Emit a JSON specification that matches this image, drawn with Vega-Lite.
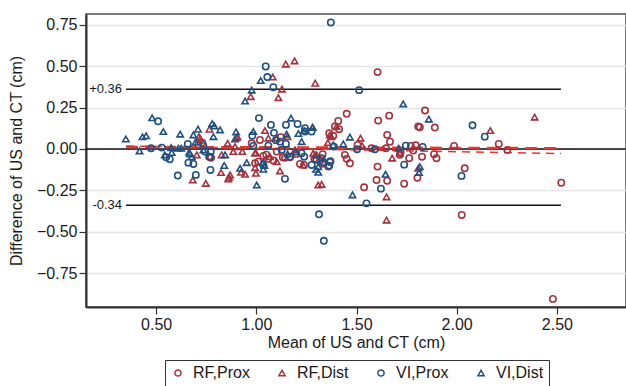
{
  "$schema": "https://vega.github.io/schema/vega-lite/v6.json",
  "width": 540,
  "height": 293,
  "padding": {"top": 14, "left": 8, "right": 0, "bottom": 0},
  "config": {
    "font": "Liberation Sans",
    "view": {"stroke": "#4d4d4d", "strokeWidth": 1.5},
    "axis": {"labelFont": "Liberation Sans", "titleFont": "Liberation Sans", "labelFontSize": 16, "titleFontSize": 16, "titleFontWeight": "normal", "labelColor": "#1a1a1a", "titleColor": "#1a1a1a", "domainColor": "#333333", "domainWidth": 2, "tickColor": "#333333", "tickWidth": 1.2, "tickSize": 7}
  },
  "datasets": {
    "pts": [
      {"m":0.977,"d":0.034,"g":"RF,Prox"},{"m":1.018,"d":0.054,"g":"RF,Prox"},{"m":1.035,"d":-0.042,"g":"RF,Prox"},{"m":1.05,"d":-0.035,"g":"RF,Prox"},{"m":1.102,"d":-0.016,"g":"RF,Prox"},{"m":1.122,"d":0.071,"g":"RF,Prox"},{"m":1.132,"d":-0.05,"g":"RF,Prox"},{"m":1.168,"d":-0.05,"g":"RF,Prox"},{"m":1.218,"d":-0.091,"g":"RF,Prox"},{"m":1.238,"d":-0.097,"g":"RF,Prox"},{"m":0.764,"d":-0.047,"g":"RF,Prox"},{"m":0.731,"d":0.038,"g":"RF,Prox"},{"m":0.774,"d":-0.053,"g":"RF,Prox"},{"m":0.711,"d":0.024,"g":"RF,Prox"},{"m":0.994,"d":-0.087,"g":"RF,Prox"},{"m":1.01,"d":-0.077,"g":"RF,Prox"},{"m":1.06,"d":-0.06,"g":"RF,Prox"},{"m":1.085,"d":-0.07,"g":"RF,Prox"},{"m":1.143,"d":-0.053,"g":"RF,Prox"},{"m":1.318,"d":-0.073,"g":"RF,Prox"},{"m":1.359,"d":-0.107,"g":"RF,Prox"},{"m":1.605,"d":0.464,"g":"RF,Prox"},{"m":1.451,"d":0.212,"g":"RF,Prox"},{"m":1.409,"d":0.169,"g":"RF,Prox"},{"m":1.392,"d":0.135,"g":"RF,Prox"},{"m":1.413,"d":0.119,"g":"RF,Prox"},{"m":1.364,"d":0.095,"g":"RF,Prox"},{"m":1.384,"d":0.079,"g":"RF,Prox"},{"m":1.608,"d":0.171,"g":"RF,Prox"},{"m":1.663,"d":0.201,"g":"RF,Prox"},{"m":1.842,"d":0.232,"g":"RF,Prox"},{"m":1.816,"d":0.131,"g":"RF,Prox"},{"m":1.891,"d":0.129,"g":"RF,Prox"},{"m":1.653,"d":0.085,"g":"RF,Prox"},{"m":1.667,"d":0.044,"g":"RF,Prox"},{"m":1.575,"d":0.004,"g":"RF,Prox"},{"m":1.647,"d":0.004,"g":"RF,Prox"},{"m":1.771,"d":0.018,"g":"RF,Prox"},{"m":1.783,"d":-0.01,"g":"RF,Prox"},{"m":1.795,"d":0.022,"g":"RF,Prox"},{"m":1.505,"d":0.024,"g":"RF,Prox"},{"m":1.987,"d":0.018,"g":"RF,Prox"},{"m":2.21,"d":0.03,"g":"RF,Prox"},{"m":2.253,"d":-0.006,"g":"RF,Prox"},{"m":2.522,"d":-0.204,"g":"RF,Prox"},{"m":2.04,"d":-0.117,"g":"RF,Prox"},{"m":1.442,"d":-0.036,"g":"RF,Prox"},{"m":1.451,"d":-0.06,"g":"RF,Prox"},{"m":1.467,"d":-0.087,"g":"RF,Prox"},{"m":1.331,"d":-0.032,"g":"RF,Prox"},{"m":1.367,"d":-0.079,"g":"RF,Prox"},{"m":1.605,"d":-0.107,"g":"RF,Prox"},{"m":1.6,"d":-0.188,"g":"RF,Prox"},{"m":1.653,"d":-0.192,"g":"RF,Prox"},{"m":1.538,"d":-0.232,"g":"RF,Prox"},{"m":1.738,"d":-0.21,"g":"RF,Prox"},{"m":1.804,"d":-0.174,"g":"RF,Prox"},{"m":1.763,"d":-0.056,"g":"RF,Prox"},{"m":1.827,"d":-0.047,"g":"RF,Prox"},{"m":1.887,"d":-0.032,"g":"RF,Prox"},{"m":1.899,"d":-0.056,"g":"RF,Prox"},{"m":1.716,"d":-0.036,"g":"RF,Prox"},{"m":1.72,"d":-0.02,"g":"RF,Prox"},{"m":2.025,"d":-0.399,"g":"RF,Prox"},{"m":2.48,"d":-0.906,"g":"RF,Prox"},{"m":1.29,"d":-0.06,"g":"RF,Prox"},{"m":1.2,"d":-0.03,"g":"RF,Prox"},{"m":1.33,"d":-0.09,"g":"RF,Prox"},{"m":1.808,"d":0.135,"g":"RF,Prox"},
      {"m":1.147,"d":0.512,"g":"RF,Dist"},{"m":1.191,"d":0.532,"g":"RF,Dist"},{"m":1.082,"d":0.434,"g":"RF,Dist"},{"m":1.128,"d":0.361,"g":"RF,Dist"},{"m":1.11,"d":0.31,"g":"RF,Dist"},{"m":0.972,"d":0.316,"g":"RF,Dist"},{"m":1.294,"d":0.397,"g":"RF,Dist"},{"m":0.683,"d":-0.188,"g":"RF,Dist"},{"m":0.748,"d":-0.208,"g":"RF,Dist"},{"m":0.864,"d":-0.171,"g":"RF,Dist"},{"m":0.824,"d":-0.143,"g":"RF,Dist"},{"m":0.869,"d":-0.157,"g":"RF,Dist"},{"m":0.924,"d":-0.141,"g":"RF,Dist"},{"m":0.944,"d":-0.153,"g":"RF,Dist"},{"m":0.998,"d":-0.147,"g":"RF,Dist"},{"m":0.714,"d":0.074,"g":"RF,Dist"},{"m":0.72,"d":0.062,"g":"RF,Dist"},{"m":0.766,"d":0.119,"g":"RF,Dist"},{"m":0.857,"d":0.034,"g":"RF,Dist"},{"m":0.902,"d":0.068,"g":"RF,Dist"},{"m":0.885,"d":-0.016,"g":"RF,Dist"},{"m":0.93,"d":-0.016,"g":"RF,Dist"},{"m":0.997,"d":-0.022,"g":"RF,Dist"},{"m":0.894,"d":0.014,"g":"RF,Dist"},{"m":1.043,"d":0.111,"g":"RF,Dist"},{"m":1.06,"d":0.065,"g":"RF,Dist"},{"m":1.102,"d":0.065,"g":"RF,Dist"},{"m":1.068,"d":-0.047,"g":"RF,Dist"},{"m":1.102,"d":-0.077,"g":"RF,Dist"},{"m":1.118,"d":-0.133,"g":"RF,Dist"},{"m":1.155,"d":0.074,"g":"RF,Dist"},{"m":1.193,"d":-0.006,"g":"RF,Dist"},{"m":1.284,"d":-0.026,"g":"RF,Dist"},{"m":1.301,"d":-0.036,"g":"RF,Dist"},{"m":1.234,"d":-0.097,"g":"RF,Dist"},{"m":1.326,"d":-0.214,"g":"RF,Dist"},{"m":1.367,"d":0.085,"g":"RF,Dist"},{"m":1.4,"d":0.135,"g":"RF,Dist"},{"m":1.281,"d":0.131,"g":"RF,Dist"},{"m":1.52,"d":0.065,"g":"RF,Dist"},{"m":1.528,"d":0.02,"g":"RF,Dist"},{"m":1.374,"d":0.074,"g":"RF,Dist"},{"m":1.357,"d":0.038,"g":"RF,Dist"},{"m":1.65,"d":-0.29,"g":"RF,Dist"},{"m":1.678,"d":-0.056,"g":"RF,Dist"},{"m":1.716,"d":-0.026,"g":"RF,Dist"},{"m":1.808,"d":-0.117,"g":"RF,Dist"},{"m":2.389,"d":0.192,"g":"RF,Dist"},{"m":2.168,"d":0.111,"g":"RF,Dist"},{"m":0.703,"d":-0.036,"g":"RF,Dist"},{"m":0.994,"d":-0.113,"g":"RF,Dist"},{"m":0.86,"d":-0.181,"g":"RF,Dist"},{"m":1.65,"d":-0.43,"g":"RF,Dist"},{"m":1.309,"d":-0.218,"g":"RF,Dist"},{"m":0.994,"d":-0.026,"g":"RF,Dist"},{"m":0.827,"d":-0.036,"g":"RF,Dist"},{"m":0.905,"d":0.074,"g":"RF,Dist"},{"m":1.293,"d":-0.036,"g":"RF,Dist"},
      {"m":0.51,"d":0.167,"g":"VI,Prox"},{"m":0.475,"d":0.004,"g":"VI,Prox"},{"m":0.528,"d":0.008,"g":"VI,Prox"},{"m":0.55,"d":-0.05,"g":"VI,Prox"},{"m":0.568,"d":-0.062,"g":"VI,Prox"},{"m":0.608,"d":-0.161,"g":"VI,Prox"},{"m":0.661,"d":-0.083,"g":"VI,Prox"},{"m":0.686,"d":-0.091,"g":"VI,Prox"},{"m":0.698,"d":-0.157,"g":"VI,Prox"},{"m":0.658,"d":0.03,"g":"VI,Prox"},{"m":0.771,"d":-0.127,"g":"VI,Prox"},{"m":0.773,"d":-0.016,"g":"VI,Prox"},{"m":0.744,"d":-0.016,"g":"VI,Prox"},{"m":0.769,"d":-0.047,"g":"VI,Prox"},{"m":0.736,"d":0.018,"g":"VI,Prox"},{"m":1.013,"d":0.186,"g":"VI,Prox"},{"m":1.047,"d":0.498,"g":"VI,Prox"},{"m":1.055,"d":0.434,"g":"VI,Prox"},{"m":1.085,"d":0.373,"g":"VI,Prox"},{"m":1.073,"d":0.145,"g":"VI,Prox"},{"m":1.088,"d":0.097,"g":"VI,Prox"},{"m":1.098,"d":0.053,"g":"VI,Prox"},{"m":1.118,"d":0.044,"g":"VI,Prox"},{"m":1.148,"d":0.145,"g":"VI,Prox"},{"m":1.206,"d":0.151,"g":"VI,Prox"},{"m":1.148,"d":0.03,"g":"VI,Prox"},{"m":1.143,"d":-0.181,"g":"VI,Prox"},{"m":1.276,"d":-0.097,"g":"VI,Prox"},{"m":0.985,"d":0.018,"g":"VI,Prox"},{"m":0.98,"d":0.08,"g":"VI,Prox"},{"m":1.372,"d":0.764,"g":"VI,Prox"},{"m":1.513,"d":0.355,"g":"VI,Prox"},{"m":1.503,"d":-0.002,"g":"VI,Prox"},{"m":1.592,"d":-0.002,"g":"VI,Prox"},{"m":1.738,"d":-0.095,"g":"VI,Prox"},{"m":1.746,"d":0.02,"g":"VI,Prox"},{"m":1.83,"d":0.012,"g":"VI,Prox"},{"m":2.079,"d":0.143,"g":"VI,Prox"},{"m":2.14,"d":0.074,"g":"VI,Prox"},{"m":2.024,"d":-0.163,"g":"VI,Prox"},{"m":1.622,"d":-0.24,"g":"VI,Prox"},{"m":1.364,"d":-0.101,"g":"VI,Prox"},{"m":1.226,"d":-0.026,"g":"VI,Prox"},{"m":1.239,"d":-0.047,"g":"VI,Prox"},{"m":1.243,"d":0.105,"g":"VI,Prox"},{"m":1.243,"d":0.125,"g":"VI,Prox"},{"m":1.276,"d":0.105,"g":"VI,Prox"},{"m":1.127,"d":-0.006,"g":"VI,Prox"},{"m":1.168,"d":-0.047,"g":"VI,Prox"},{"m":1.035,"d":-0.097,"g":"VI,Prox"},{"m":1.326,"d":-0.056,"g":"VI,Prox"},{"m":1.334,"d":-0.08,"g":"VI,Prox"},{"m":1.37,"d":-0.075,"g":"VI,Prox"},{"m":1.387,"d":0.014,"g":"VI,Prox"},{"m":1.55,"d":-0.329,"g":"VI,Prox"},{"m":1.313,"d":-0.395,"g":"VI,Prox"},{"m":1.337,"d":-0.555,"g":"VI,Prox"},{"m":1.06,"d":0.02,"g":"VI,Prox"},{"m":1.3,"d":-0.065,"g":"VI,Prox"},
      {"m":0.349,"d":0.06,"g":"VI,Dist"},{"m":0.417,"d":-0.012,"g":"VI,Dist"},{"m":0.432,"d":0.073,"g":"VI,Dist"},{"m":0.45,"d":0.079,"g":"VI,Dist"},{"m":0.48,"d":0.188,"g":"VI,Dist"},{"m":0.536,"d":0.105,"g":"VI,Dist"},{"m":0.543,"d":-0.036,"g":"VI,Dist"},{"m":0.578,"d":-0.022,"g":"VI,Dist"},{"m":0.575,"d":0.008,"g":"VI,Dist"},{"m":0.62,"d":0.089,"g":"VI,Dist"},{"m":0.625,"d":0.004,"g":"VI,Dist"},{"m":0.665,"d":-0.02,"g":"VI,Dist"},{"m":0.669,"d":-0.03,"g":"VI,Dist"},{"m":0.678,"d":-0.047,"g":"VI,Dist"},{"m":0.686,"d":0.085,"g":"VI,Dist"},{"m":0.709,"d":0.119,"g":"VI,Dist"},{"m":0.736,"d":-0.006,"g":"VI,Dist"},{"m":0.78,"d":0.153,"g":"VI,Dist"},{"m":0.79,"d":0.139,"g":"VI,Dist"},{"m":0.819,"d":0.115,"g":"VI,Dist"},{"m":0.786,"d":0.074,"g":"VI,Dist"},{"m":0.844,"d":-0.036,"g":"VI,Dist"},{"m":0.84,"d":-0.1,"g":"VI,Dist"},{"m":0.899,"d":0.103,"g":"VI,Dist"},{"m":0.894,"d":0.06,"g":"VI,Dist"},{"m":0.944,"d":0.289,"g":"VI,Dist"},{"m":0.977,"d":0.355,"g":"VI,Dist"},{"m":1.022,"d":0.413,"g":"VI,Dist"},{"m":0.952,"d":-0.083,"g":"VI,Dist"},{"m":0.919,"d":-0.117,"g":"VI,Dist"},{"m":1.002,"d":-0.218,"g":"VI,Dist"},{"m":0.985,"d":0.105,"g":"VI,Dist"},{"m":1.035,"d":-0.083,"g":"VI,Dist"},{"m":1.04,"d":-0.1,"g":"VI,Dist"},{"m":1.035,"d":-0.123,"g":"VI,Dist"},{"m":1.173,"d":0.186,"g":"VI,Dist"},{"m":1.151,"d":0.089,"g":"VI,Dist"},{"m":1.21,"d":0.093,"g":"VI,Dist"},{"m":1.238,"d":0.111,"g":"VI,Dist"},{"m":1.281,"d":0.129,"g":"VI,Dist"},{"m":1.226,"d":0.044,"g":"VI,Dist"},{"m":1.298,"d":-0.123,"g":"VI,Dist"},{"m":1.309,"d":-0.141,"g":"VI,Dist"},{"m":1.309,"d":-0.107,"g":"VI,Dist"},{"m":1.156,"d":-0.03,"g":"VI,Dist"},{"m":1.196,"d":-0.018,"g":"VI,Dist"},{"m":1.384,"d":0.024,"g":"VI,Dist"},{"m":1.434,"d":0.03,"g":"VI,Dist"},{"m":1.467,"d":0.071,"g":"VI,Dist"},{"m":1.711,"d":0.004,"g":"VI,Dist"},{"m":1.733,"d":0.272,"g":"VI,Dist"},{"m":1.861,"d":0.18,"g":"VI,Dist"},{"m":1.816,"d":-0.107,"g":"VI,Dist"},{"m":1.812,"d":-0.143,"g":"VI,Dist"},{"m":1.645,"d":-0.153,"g":"VI,Dist"},{"m":1.48,"d":-0.278,"g":"VI,Dist"},{"m":0.611,"d":0.004,"g":"VI,Dist"},{"m":0.696,"d":0.04,"g":"VI,Dist"}
    ],
    "loa": [
      {"x1":0.35,"x2":2.52,"y":0.36,"label":"+0.36"},
      {"x1":0.35,"x2":2.52,"y":-0.34,"label":"-0.34"}
    ],
    "reg": [
      {"x":0.35,"y":0.012,"line":"a"},{"x":2.52,"y":0.004,"line":"a"},
      {"x":0.35,"y":0.018,"line":"b"},{"x":2.52,"y":-0.028,"line":"b"}
    ]
  },
  "encoding": {
    "x": {"type": "quantitative", "scale": {"domain": [0.15, 2.845], "nice": false, "zero": false},
      "axis": {"title": "Mean of US and CT (cm)", "values": [0.5, 1, 1.5, 2, 2.5], "format": ".2f", "grid": false, "labelPadding": 2, "titlePadding": 2}},
    "y": {"type": "quantitative", "scale": {"domain": [-0.955, 0.815], "nice": false, "zero": false},
      "axis": {"title": "Difference of US and CT (cm)", "values": [-0.75, -0.5, -0.25, 0, 0.25, 0.5, 0.75], "format": ".2f", "grid": true, "gridColor": "#e4e4e4", "gridWidth": 1.5, "labelPadding": 2, "titlePadding": 12}}
  },
  "layer": [
    {
      "data": {"values": [{"y": 0}]},
      "mark": {"type": "rule", "color": "#111111", "strokeWidth": 1.5},
      "encoding": {"y": {"field": "y", "type": "quantitative"}}
    },
    {
      "data": {"name": "loa"},
      "mark": {"type": "rule", "color": "#111111", "strokeWidth": 1.5},
      "encoding": {"x": {"field": "x1", "type": "quantitative"}, "x2": {"field": "x2"}, "y": {"field": "y", "type": "quantitative"}}
    },
    {
      "data": {"name": "loa"},
      "mark": {"type": "text", "align": "right", "baseline": "middle", "dx": -4, "fontSize": 13, "color": "#1a1a1a", "font": "Liberation Sans"},
      "encoding": {"x": {"field": "x1", "type": "quantitative"}, "y": {"field": "y", "type": "quantitative"}, "text": {"field": "label"}}
    },
    {
      "data": {"name": "reg"},
      "mark": {"type": "line", "color": "#ee3333"},
      "encoding": {
        "x": {"field": "x", "type": "quantitative"},
        "y": {"field": "y", "type": "quantitative"},
        "strokeDash": {"field": "line", "type": "nominal", "scale": {"domain": ["a", "b"], "range": [[12, 7], [8, 6]]}, "legend": null},
        "strokeWidth": {"field": "line", "type": "nominal", "scale": {"domain": ["a", "b"], "range": [2.5, 1.5]}, "legend": null}
      }
    },
    {
      "data": {"name": "pts"},
      "mark": {"type": "point", "filled": false, "strokeWidth": 1.6, "size": 40, "opacity": 1},
      "encoding": {
        "x": {"field": "m", "type": "quantitative"},
        "y": {"field": "d", "type": "quantitative"},
        "color": {"field": "g", "type": "nominal", "scale": {"domain": ["RF,Prox", "RF,Dist", "VI,Prox", "VI,Dist"], "range": ["#a3323e", "#a3323e", "#1f5080", "#1f5080"]},
          "legend": {"orient": "none", "legendX": 79, "legendY": 346, "direction": "horizontal", "columns": 4, "title": null, "labelFontSize": 16, "labelFont": "Liberation Sans", "labelColor": "#1a1a1a", "strokeColor": "#333333", "padding": 5, "columnPadding": 24, "labelOffset": 7, "symbolSize": 38, "symbolStrokeWidth": 1.5}},
        "shape": {"field": "g", "type": "nominal", "scale": {"domain": ["RF,Prox", "RF,Dist", "VI,Prox", "VI,Dist"], "range": ["circle", "triangle-up", "circle", "triangle-up"]}}
      }
    }
  ]
}
